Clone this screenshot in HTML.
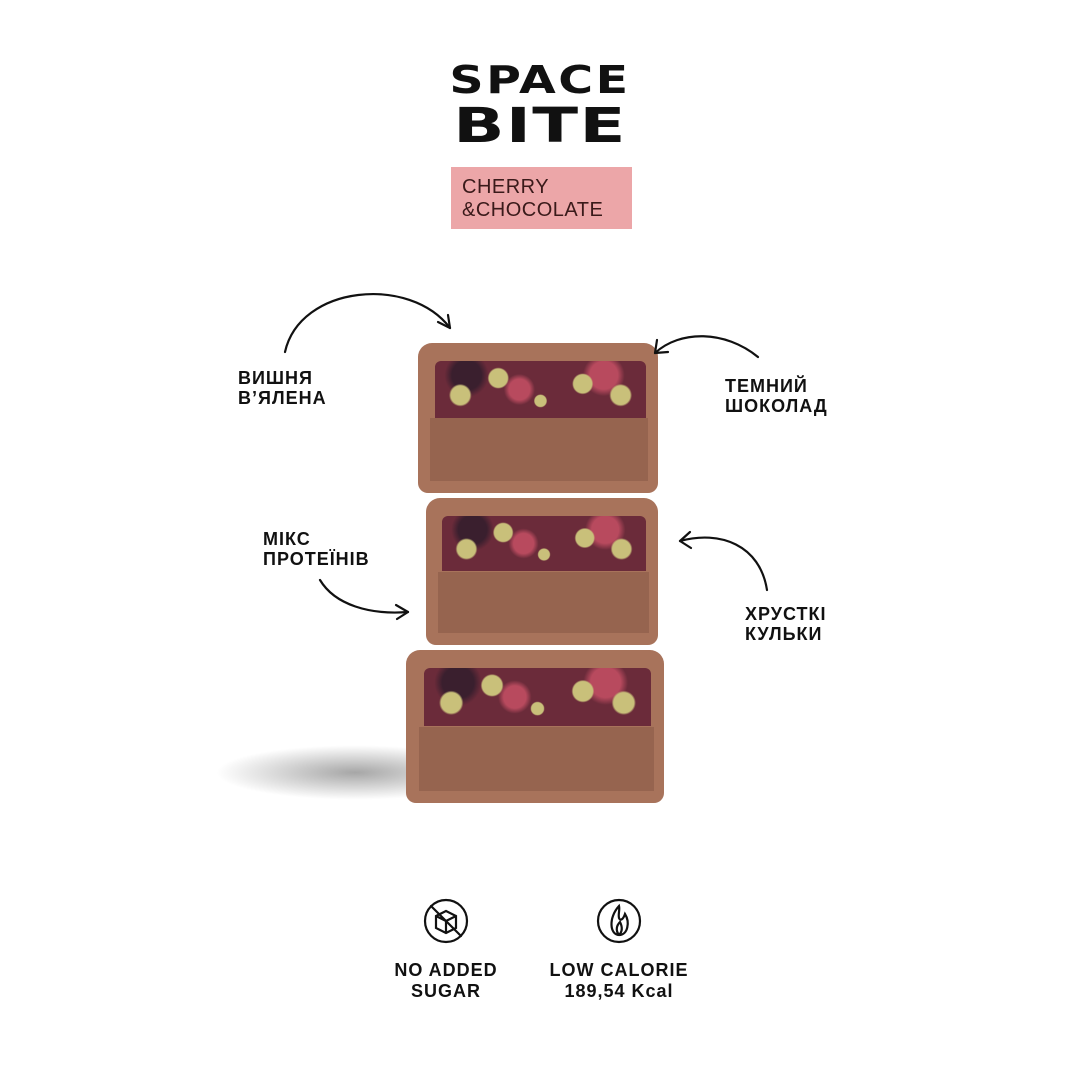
<!DOCTYPE html>
<html><head><meta charset="utf-8"><style>
body{margin:0;width:1080px;height:1080px;background:#fff;position:relative;overflow:hidden;font-family:"Liberation Sans","DejaVu Sans",sans-serif}
.t{position:absolute;font-weight:bold;font-size:18px;line-height:20px;color:#111;letter-spacing:1px}
.logo{position:absolute;left:448px;width:184px;text-align:center;font-weight:900;color:#111;font-family:"DejaVu Sans","Liberation Sans",sans-serif;transform-origin:center}
.pink{position:absolute;left:451px;top:167px;width:181px;height:62px;background:#eca6a8}
.pink div{position:absolute;left:11px;top:9px;font-size:20px;line-height:23px;color:#3a1a1a;letter-spacing:0.5px}
.bar{position:absolute;border-radius:14px 14px 10px 10px;background:#a8735b;overflow:hidden}
.ch{position:absolute;left:7%;right:5%;top:12%;height:38%;background:
radial-gradient(circle at 12% 60%,#c9c07a 0 5%,transparent 6%),
radial-gradient(circle at 30% 30%,#c9c07a 0 6%,transparent 7%),
radial-gradient(circle at 50% 70%,#c9c07a 0 5%,transparent 6%),
radial-gradient(circle at 70% 40%,#c9c07a 0 6%,transparent 7%),
radial-gradient(circle at 88% 60%,#c9c07a 0 5%,transparent 6%),
radial-gradient(circle at 40% 50%,#b84a5e 0 8%,transparent 12%),
radial-gradient(circle at 80% 25%,#b84a5e 0 8%,transparent 12%),
radial-gradient(circle at 15% 25%,#3a1f2e 0 8%,transparent 12%),
#6b2b3a;border-radius:6px 6px 0 0}
.sp{position:absolute;left:5%;right:4%;top:50%;bottom:8%;background:#96644f}
.b{position:absolute;font-size:18px;font-weight:bold;text-align:center;line-height:21px;color:#111;width:170px;letter-spacing:1px}
</style></head><body>
<div class="logo" style="top:58px;font-size:38px;letter-spacing:2px;transform:scaleX(1.25)">SPACE</div>
<div class="logo" style="top:98px;font-size:48px;letter-spacing:1px;transform:scaleX(1.4)">BITE</div>
<div class="pink"><div>CHERRY<br>&amp;CHOCOLATE</div></div>

<div style="position:absolute;left:215px;top:745px;width:200px;height:55px;background:radial-gradient(ellipse at 70% 50%,rgba(0,0,0,.35),rgba(0,0,0,0) 70%)"></div>
<div class="bar" style="left:418px;top:343px;width:240px;height:150px"><div class="ch"></div><div class="sp"></div></div>
<div class="bar" style="left:426px;top:498px;width:232px;height:147px"><div class="ch"></div><div class="sp"></div></div>
<div class="bar" style="left:406px;top:650px;width:258px;height:153px"><div class="ch"></div><div class="sp"></div></div>

<svg width="1080" height="1080" style="position:absolute;left:0;top:0" fill="none" stroke="#111" stroke-width="2.2" stroke-linecap="round">
<path d="M285 352 C300 285 410 275 450 328"/><path d="M450 328 L438 322 M450 328 L448 315"/>
<path d="M758 357 C725 330 680 330 655 353"/><path d="M655 353 L657 340 M655 353 L668 352"/>
<path d="M320 580 C335 605 370 615 408 612"/><path d="M408 612 L396 605 M408 612 L397 619"/>
<path d="M767 590 C760 545 720 530 680 541"/><path d="M680 541 L690 532 M680 541 L691 548"/>
<circle cx="446" cy="921" r="21"/><path d="M431 906 L461 936"/><path d="M436 916 L446 911 L456 916 L456 928 L446 933 L436 928 Z M436 916 L446 921 L456 916 M446 921 L446 933"/>
<circle cx="619" cy="921" r="21"/><path d="M619 906 C608 918 610 935 619 935 C628 935 630 922 625 914 C623 920 620 921 619 918 C618 914 620 910 619 906 Z M619 935 C615 930 617 925 620 922 C622 926 623 931 619 935"/>
</svg>

<div class="t" style="left:238px;top:368px">ВИШНЯ<br>В’ЯЛЕНА</div>
<div class="t" style="left:725px;top:376px">ТЕМНИЙ<br>ШОКОЛАД</div>
<div class="t" style="left:263px;top:529px">МІКС<br>ПРОТЕЇНІВ</div>
<div class="t" style="left:745px;top:604px">ХРУСТКІ<br>КУЛЬКИ</div>
<div class="b" style="left:361px;top:960px">NO ADDED<br>SUGAR</div>
<div class="b" style="left:534px;top:960px">LOW CALORIE<br>189,54 Kcal</div>
</body></html>
